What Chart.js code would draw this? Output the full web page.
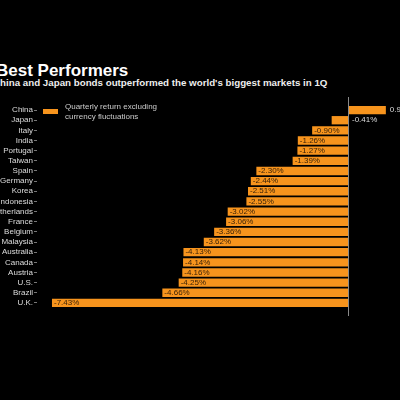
<!DOCTYPE html>
<html>
<head>
<meta charset="utf-8">
<script src="https://cdn.jsdelivr.net/npm/chart.js@4"></script>
<style>
  html, body { margin: 0; padding: 0; background: #000; width: 400px; height: 400px; overflow: hidden; }
  body { position: relative; font-family: "Liberation Sans", Arial, sans-serif; }
  #title { position: absolute; left: -4px; top: 62px; font-size: 17px; line-height: 17px; font-weight: bold; color: #fff; white-space: nowrap; }
  #subtitle { position: absolute; left: -7px; top: 78px; font-size: 9.75px; line-height: 10px; font-weight: bold; color: #eee; white-space: nowrap; }
  #legend { position: absolute; left: 43px; top: 102px; color: #ccc; font-size: 8px; line-height: 10px; z-index: 2; }
  #legend .swatch { position: absolute; left: 0; top: 7px; width: 15px; height: 5px; background: #f7941d; }
  #legend .text { position: absolute; left: 22px; top: 0; white-space: nowrap; }
  #wrap { position: absolute; left: -20px; top: 0; width: 420px; height: 400px; }
</style>
</head>
<body>
<div id="title">Best Performers</div>
<div id="subtitle">China and Japan bonds outperformed the world's biggest markets in 1Q</div>
<div id="legend"><div class="swatch"></div><div class="text">Quarterly return excluding<br>currency fluctuations</div></div>
<div id="wrap"><canvas id="chart" width="420" height="400"></canvas></div>
<script>
// Данные
const countries = ['China', 'Japan', 'Italy', 'India', 'Portugal', 'Taiwan', 'Spain', 'Germany', 'Korea',
    'Indonesia', 'Netherlands', 'France', 'Belgium', 'Malaysia', 'Australia', 'Canada', 'Austria', 'U.S.', 'Brazil', 'U.K.'];
const returns = [0.95, -0.41, -0.90, -1.26, -1.27, -1.39, -2.30, -2.44, -2.51,
    -2.55, -3.02, -3.06, -3.36, -3.62, -4.13, -4.14, -4.16, -4.25, -4.66, -7.43];

const barColor = '#f7941d';

// Нулевая линия
const zeroLine = {
    id: 'zeroLine',
    afterDatasetsDraw(chart) {
        const { ctx, chartArea, scales } = chart;
        const x = Math.round(scales.x.getPixelForValue(0)) + 0.5;
        ctx.save();
        ctx.strokeStyle = '#8a8a8a';
        ctx.lineWidth = 1;
        ctx.beginPath();
        ctx.moveTo(x, chartArea.top - 8);
        ctx.lineTo(x, chartArea.bottom + 8);
        ctx.stroke();
        ctx.restore();
    }
};

// Подписи значений
const valueLabels = {
    id: 'valueLabels',
    afterDatasetsDraw(chart) {
        const { ctx } = chart;
        const meta = chart.getDatasetMeta(0);
        ctx.save();
        ctx.font = '8px "Liberation Sans", Arial, sans-serif';
        ctx.textBaseline = 'middle';
        ctx.textAlign = 'left';
        meta.data.forEach((bar, i) => {
            const v = returns[i];
            const text = v.toFixed(2) + '%';
            if (v > 0) {
                ctx.fillStyle = '#ddd';
                ctx.fillText(text, bar.x + 4, bar.y);
            } else if (v > -0.5) {
                ctx.fillStyle = '#ddd';
                ctx.fillText(text, bar.base + 4, bar.y);
            } else {
                ctx.fillStyle = '#3a2208';
                ctx.fillText(text, bar.x + 2, bar.y);
            }
        });
        ctx.restore();
    }
};

new Chart(document.getElementById('chart'), {
    type: 'bar',
    data: {
        labels: countries,
        datasets: [{
            label: 'Quarterly return excluding currency fluctuations',
            data: returns,
            backgroundColor: barColor,
            borderWidth: 0,
            barPercentage: 0.82,
            categoryPercentage: 1
        }]
    },
    options: {
        indexAxis: 'y',
        responsive: false,
        animation: false,
        layout: { padding: { top: 105, bottom: 92, left: 0, right: 0 } },
        plugins: {
            legend: { display: false },
            tooltip: { enabled: false }
        },
        scales: {
            x: {
                display: false,
                min: -7.806,
                max: 1.305
            },
            y: {
                afterFit(scale) { scale.width = 57; },
                border: { display: false },
                grid: {
                    drawOnChartArea: false,
                    drawTicks: true,
                    tickLength: 3,
                    offset: false,
                    color: '#777'
                },
                ticks: {
                    color: '#ddd',
                    padding: 1,
                    autoSkip: false,
                    font: { family: '"Liberation Sans", Arial, sans-serif', size: 8 }
                }
            }
        }
    },
    plugins: [zeroLine, valueLabels]
});
</script>
</body>
</html>
